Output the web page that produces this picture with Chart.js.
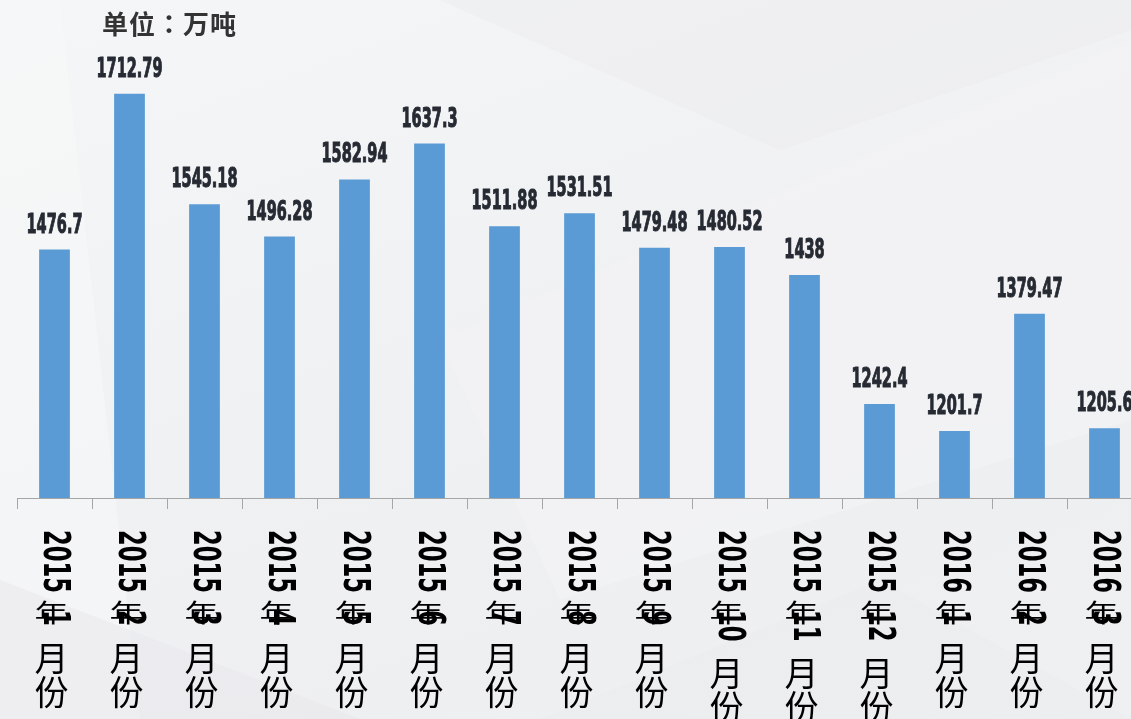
<!DOCTYPE html>
<html>
<head>
<meta charset="utf-8">
<script src="https://cdn.jsdelivr.net/npm/chart.js@4.4.0/dist/chart.umd.min.js"></script>
<style>
  html, body { margin: 0; padding: 0; width: 1131px; height: 719px; overflow: hidden; }
  body {
    background: linear-gradient(160deg, #f5f6f7 0%, #f0f1f3 45%, #eeeff1 75%, #eff0f2 100%);
    position: relative;
  }
  .facet { position: absolute; left: 0; top: 0; width: 1131px; height: 719px; }
  .f1 { background: #f7f8f9; clip-path: polygon(0 0, 60px 0, 140px 719px, 0 719px); opacity: .6; }
  .f2 { background: #ebecee; clip-path: polygon(440px 0, 1131px 0, 1131px 30px, 780px 150px); opacity: .5; }
  .f3 { background: #f3f4f5; clip-path: polygon(440px 340px, 1131px 40px, 1131px 420px, 560px 600px); opacity: .6; }
  .f4 { background: #e7e8eb; clip-path: polygon(0 580px, 360px 719px, 0 719px); opacity: .5; }
  .f5 { background: #e9eaed; clip-path: polygon(540px 719px, 880px 580px, 1131px 719px); opacity: .4; }
  #wrap { position: absolute; left: 0; top: 0; width: 1142px; height: 719px; }
  #unit { position: absolute; left: 102px; top: 7px; font: bold 26px "Noto Sans CJK TC", sans-serif; color: #333; line-height: 1.2; letter-spacing: 1px; }
</style>
</head>
<body>
<div class="facet f1"></div>
<div class="facet f2"></div>
<div class="facet f3"></div>
<div class="facet f4"></div>
<div class="facet f5"></div>
<div id="wrap"><canvas id="myChart" width="1142" height="719"></canvas></div>
<div id="unit">单位：万吨</div>
<script>
const months = ['2015年1月份','2015年2月份','2015年3月份','2015年4月份','2015年5月份','2015年6月份',
  '2015年7月份','2015年8月份','2015年9月份','2015年10月份','2015年11月份','2015年12月份',
  '2016年1月份','2016年2月份','2016年3月份'];
const output = [1476.7, 1712.79, 1545.18, 1496.28, 1582.94, 1637.3, 1511.88, 1531.51,
  1479.48, 1480.52, 1438, 1242.4, 1201.7, 1379.47, 1205.6];

const numFont = '"DejaVu Sans Condensed", "DejaVu Sans", sans-serif';

// value labels above bars
const valueLabels = {
  id: 'valueLabels',
  afterDatasetsDraw(chart) {
    const ctx = chart.ctx;
    const meta = chart.getDatasetMeta(0);
    ctx.save();
    ctx.fillStyle = '#262a33';
    ctx.strokeStyle = '#262a33';
    ctx.lineWidth = 1;
    ctx.font = 'bold 26px ' + numFont;
    ctx.textAlign = 'center';
    ctx.textBaseline = 'alphabetic';
    meta.data.forEach((bar, i) => {
      ctx.save();
      ctx.translate(bar.x, bar.y - 17);
      ctx.scale(0.62, 1);
      ctx.fillText(String(output[i]), 0, 0);
      ctx.strokeText(String(output[i]), 0, 0);
      ctx.restore();
    });
    ctx.restore();
  }
};

// vertical category labels: digits turned, CJK upright
const verticalLabels = {
  id: 'verticalLabels',
  afterDraw(chart) {
    const ctx = chart.ctx, xs = chart.scales.x;
    const squeeze = 0.68;
    ctx.save();
    ctx.fillStyle = '#000';
    months.forEach((lab, i) => {
      const cx = xs.getPixelForValue(i);
      let y = 530;
      let afterYear = false;
      lab.match(/\d+|./g).forEach(p => {
        if (/\d/.test(p)) {
          ctx.font = 'bold 37px ' + numFont;
          const w = ctx.measureText(p).width * squeeze;
          ctx.save();
          ctx.translate(cx - 1, y);
          ctx.rotate(Math.PI / 2);
          ctx.scale(squeeze, 1);
          ctx.textAlign = 'left';
          ctx.textBaseline = 'middle';
          ctx.fillText(p, 0, 0);
          ctx.restore();
          y += w + (afterYear ? 15 : 7);
        } else {
          ctx.font = '34px "Noto Sans CJK SC", sans-serif';
          ctx.textAlign = 'center';
          ctx.textBaseline = 'top';
          ctx.save();
          ctx.translate(cx - 3, y);
          if (p === '年') ctx.scale(1, 0.72);
          ctx.fillText(p, 0, 0);
          ctx.restore();
          if (p === '年') { y += 10; afterYear = true; } else { y += 34; }
        }
      });
    });
    ctx.restore();
  }
};

var ctx = document.getElementById('myChart').getContext('2d');
var myChart = new Chart(ctx, {
  type: 'bar',
  data: {
    labels: months,
    datasets: [{
      label: '万吨',
      data: output,
      backgroundColor: '#5b9bd5',
      borderWidth: 0,
      categoryPercentage: 1,
      barPercentage: 0.41
    }]
  },
  options: {
    responsive: false,
    animation: false,
    layout: { padding: { left: 17, right: 0, top: 0, bottom: 0 } },
    scales: {
      x: {
        grid: {
          display: true,
          offset: true,
          drawOnChartArea: false,
          drawTicks: true,
          tickLength: 11,
          color: '#a6a6a6'
        },
        border: { display: true, color: '#a6a6a6', width: 1 },
        ticks: { display: false },
        afterFit(scale) { scale.height = 221; }
      },
      y: {
        display: false,
        min: 1100,
        max: 1855
      }
    },
    plugins: {
      legend: { display: false },
      tooltip: { enabled: false }
    }
  },
  plugins: [valueLabels, verticalLabels]
});
</script>
</body>
</html>
